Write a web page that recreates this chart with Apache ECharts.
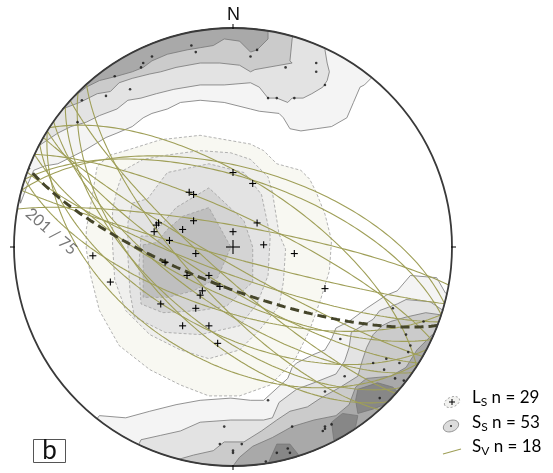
<!DOCTYPE html>
<html><head><meta charset="utf-8">
<script src="https://cdn.jsdelivr.net/npm/echarts@6/dist/echarts.min.js"></script>
<style>html,body{margin:0;padding:0;background:#fff}#c{width:553px;height:473px}</style>
</head><body><div id="c"></div><script>
// ---- DATA (equal-area net coordinates, primitive radius = 1) ----
const ssNorth1 = [[-0.97,0.20],[-0.94,0.28],[-0.91,0.35],[-0.86,0.37],[-0.80,0.38],[-0.74,0.41],[-0.68,0.44],[-0.63,0.47],[-0.58,0.50],[-0.53,0.52],[-0.46,0.55],[-0.41,0.59],[-0.37,0.61],[-0.30,0.63],[-0.24,0.66],[-0.15,0.67],[-0.04,0.66],[0.08,0.63],[0.12,0.62],[0.21,0.61],[0.23,0.59],[0.26,0.54],[0.31,0.53],[0.38,0.54],[0.45,0.55],[0.52,0.59],[0.55,0.66],[0.58,0.73],[0.60,0.74],[0.63,0.77]];
const ssNorth2 = [[-0.89,0.46],[-0.80,0.52],[-0.74,0.55],[-0.67,0.57],[-0.61,0.60],[-0.53,0.63],[-0.48,0.67],[-0.42,0.68],[-0.35,0.70],[-0.27,0.72],[-0.21,0.73],[-0.15,0.74],[-0.04,0.74],[0.08,0.75],[0.12,0.73],[0.16,0.68],[0.20,0.68],[0.25,0.66],[0.27,0.68],[0.32,0.68],[0.36,0.70],[0.41,0.73],[0.43,0.76],[0.44,0.80],[0.43,0.84],[0.42,0.90]];
const ssNorth3 = [[-0.78,0.63],[-0.70,0.66],[-0.62,0.70],[-0.56,0.71],[-0.52,0.75],[-0.46,0.77],[-0.38,0.79],[-0.33,0.80],[-0.26,0.82],[-0.15,0.84],[-0.06,0.84],[0.03,0.83],[0.08,0.80],[0.10,0.81],[0.27,0.84],[0.26,0.85],[0.27,0.95]];
const ssNorth4 = [[-0.72,0.69],[-0.67,0.73],[-0.61,0.76],[-0.53,0.78],[-0.46,0.80],[-0.41,0.82],[-0.37,0.85],[-0.30,0.88],[-0.21,0.90],[-0.15,0.91],[-0.09,0.92],[-0.04,0.95],[0.03,0.94],[0.08,0.89],[0.11,0.90],[0.16,0.95],[0.16,0.98]];
const ssSouth1 = [[0.97,-0.21],[0.93,-0.14],[0.81,-0.13],[0.75,-0.20],[0.70,-0.22],[0.61,-0.28],[0.53,-0.34],[0.47,-0.37],[0.45,-0.42],[0.42,-0.47],[0.37,-0.49],[0.29,-0.53],[0.27,-0.55],[0.25,-0.60],[0.14,-0.70],[0.08,-0.70],[-0.01,-0.69],[-0.15,-0.70],[-0.26,-0.72],[-0.38,-0.75],[-0.49,-0.78],[-0.61,-0.77]];
const ssSouth2 = [[0.96,-0.29],[0.90,-0.25],[0.79,-0.24],[0.75,-0.26],[0.67,-0.29],[0.64,-0.33],[0.59,-0.36],[0.54,-0.39],[0.53,-0.46],[0.51,-0.52],[0.47,-0.58],[0.37,-0.62],[0.29,-0.65],[0.21,-0.71],[0.18,-0.78],[0.14,-0.79],[-0.01,-0.79],[-0.15,-0.80],[-0.24,-0.84],[-0.33,-0.86],[-0.42,-0.88]];
const ssSouth3 = [[0.95,-0.31],[0.88,-0.30],[0.79,-0.32],[0.72,-0.34],[0.68,-0.36],[0.64,-0.40],[0.61,-0.46],[0.59,-0.52],[0.57,-0.59],[0.49,-0.64],[0.40,-0.69],[0.34,-0.73],[0.26,-0.75],[0.20,-0.79],[0.13,-0.84],[0.05,-0.89],[-0.04,-0.89],[-0.09,-0.93],[-0.18,-0.95],[-0.25,-0.97]];
const ssSouth4 = [[0.91,-0.40],[0.84,-0.47],[0.79,-0.55],[0.72,-0.59],[0.61,-0.60],[0.56,-0.64],[0.53,-0.72],[0.47,-0.77],[0.37,-0.79],[0.27,-0.82],[0.18,-0.87],[0.09,-0.91],[0.03,-0.96],[0.00,-1.00]];
const ssPeak1 = [[0.57,-0.65],[0.66,-0.62],[0.73,-0.64],[0.75,-0.66],[0.72,-0.70],[0.69,-0.72],[0.64,-0.74],[0.57,-0.76],[0.56,-0.70]];
const ssPeak2 = [[0.45,-0.80],[0.50,-0.76],[0.57,-0.77],[0.56,-0.82],[0.51,-0.86],[0.46,-0.88]];
const ssPeak3 = [[0.16,-0.99],[0.20,-0.90],[0.26,-0.90],[0.30,-0.95],[0.29,-0.96]];
const ssFills = ['#f4f4f4','#e3e3e3','#cbcbcb','#a9a9a9','#878787'];

const lsContour1 = [[-0.49,0.44],[-0.33,0.49],[-0.15,0.51],[0.08,0.47],[0.14,0.44],[0.20,0.38],[0.31,0.35],[0.35,0.31],[0.38,0.25],[0.42,0.15],[0.45,0.03],[0.44,-0.11],[0.40,-0.24],[0.35,-0.38],[0.28,-0.52],[0.17,-0.63],[0.03,-0.68],[-0.11,-0.68],[-0.24,-0.63],[-0.38,-0.56],[-0.52,-0.45],[-0.61,-0.29],[-0.65,-0.13],[-0.67,-0.01],[-0.67,0.08],[-0.64,0.25],[-0.62,0.37],[-0.56,0.42]];
const lsContour2 = [[-0.50,0.35],[-0.41,0.40],[-0.30,0.42],[-0.15,0.44],[-0.01,0.43],[0.08,0.40],[0.16,0.32],[0.18,0.25],[0.21,0.06],[0.24,-0.01],[0.23,-0.16],[0.21,-0.27],[0.12,-0.38],[0.03,-0.47],[-0.11,-0.51],[-0.24,-0.47],[-0.38,-0.40],[-0.49,-0.29],[-0.54,-0.15],[-0.55,0.01],[-0.55,0.17],[-0.53,0.26]];
const lsContour3 = [[-0.46,0.20],[-0.39,0.22],[-0.30,0.34],[-0.11,0.38],[0.05,0.34],[0.13,0.24],[0.17,0.05],[0.16,-0.13],[0.11,-0.26],[0.03,-0.36],[-0.15,-0.40],[-0.31,-0.39],[-0.45,-0.32],[-0.47,-0.21],[-0.48,-0.04],[-0.48,0.11]];
const lsContour4 = [[-0.43,-0.09],[-0.42,0.05],[-0.37,0.05],[-0.26,0.18],[-0.11,0.27],[0.05,0.12],[0.09,0.00],[0.09,-0.16],[-0.03,-0.27],[-0.15,-0.29],[-0.32,-0.30],[-0.42,-0.26]];
const lsContour5 = [[-0.41,0.01],[-0.35,0.02],[-0.30,0.08],[-0.23,0.14],[-0.11,0.18],[-0.01,0.00],[-0.07,-0.14],[-0.18,-0.20],[-0.30,-0.23],[-0.41,-0.23],[-0.41,-0.09]];
const lsFills = ['#f8f8f2','#efefed','#e3e3e3','#d4d4d4','#bfbfbf'];

// Ls lineations (crosses), n = 29
const lsPoints = [[0.00,0.34],[0.09,0.29],[-0.20,0.25],[-0.18,0.24],[-0.34,0.11],[-0.35,0.10],[-0.36,0.07],[-0.18,0.12],[-0.23,0.08],[-0.29,0.03],[0.00,0.07],[0.11,0.11],[0.14,0.01],[0.28,-0.03],[-0.17,-0.03],[-0.31,-0.07],[-0.21,-0.13],[-0.11,-0.13],[-0.06,-0.18],[-0.14,-0.20],[-0.15,-0.22],[-0.56,-0.16],[-0.33,-0.26],[-0.17,-0.28],[-0.23,-0.36],[-0.11,-0.36],[-0.07,-0.44],[-0.64,-0.04],[0.42,-0.19]];
// Ss poles (dots)
const ssPoints = [[-0.19,0.92],[-0.17,0.89],[-0.37,0.87],[-0.41,0.84],[-0.42,0.82],[-0.54,0.78],[-0.47,0.72],[-0.58,0.69],[-0.69,0.67],[-0.71,0.57],[0.11,0.90],[0.08,0.87],[0.24,0.82],[0.38,0.84],[0.38,0.80],[0.42,0.74],[0.16,0.68],[0.20,0.68],[0.28,0.68],
 [0.73,-0.28],[0.87,-0.34],[0.79,-0.40],[0.49,-0.42],[0.81,-0.45],[0.80,-0.48],[0.64,-0.53],[0.70,-0.51],[0.76,-0.53],[0.69,-0.56],[0.74,-0.60],[0.78,-0.61],[0.51,-0.59],[0.42,-0.66],[0.16,-0.70],[0.67,-0.69],[0.27,-0.82],[0.42,-0.82],[0.42,-0.83],[0.41,-0.84],[0.45,-0.81],[-0.04,-0.82],[-0.06,-0.90],[0.04,-0.90],[0.00,-0.93],[0.00,-0.94],[0.20,-0.94],[0.25,-0.92],[0.26,-0.94],[0.15,-0.98]];
// Sv planes [dip direction, dip], n = 18
const svPlanes = [[15,60],[18,64],[33,65],[25,78],[10,82],[195,86],[200,80],[205,72],[198,66],[210,84],[212,76],[215,68],[220,60],[225,58],[228,72],[212,47],[222,80],[208,58]];
const meanPlane = [201,75];
const meanLabel = '201 / 75';

// ---- projection helpers ----
const D = Math.PI/180;
function greatCircle(dd, dip){
  const st = (dd-90)*D, ddr = dd*D, dr = dip*D, out = [];
  const s = [Math.cos(st), Math.sin(st), 0];
  const d = [Math.cos(ddr)*Math.cos(dr), Math.sin(ddr)*Math.cos(dr), Math.sin(dr)];
  for (let r = 0; r <= 180; r += 1.5){
    const c = Math.cos(r*D), sn = Math.sin(r*D);
    const v = [c*s[0]+sn*d[0], c*s[1]+sn*d[1], c*s[2]+sn*d[2]];
    const p = Math.asin(Math.max(-1, Math.min(1, v[2])));
    const tr = Math.atan2(v[1], v[0]);
    const R = Math.SQRT2*Math.sin((Math.PI/2 - p)/2);
    out.push([R*Math.sin(tr), R*Math.cos(tr)]);
  }
  return out;
}
function az(p){ return Math.atan2(p[0], p[1])/D; }
function withRim(b){
  const a1 = az(b[b.length-1]); let a0 = az(b[0]);
  while (a0 > a1) a0 -= 360;
  const pts = b.slice();
  for (let a = a1; a > a0; a -= 2) pts.push([Math.sin(a*D), Math.cos(a*D)]);
  return pts;
}

const ssPolys = [withRim(ssNorth1), withRim(ssSouth1), withRim(ssNorth2), withRim(ssSouth2), withRim(ssNorth3), withRim(ssSouth3), withRim(ssNorth4), withRim(ssSouth4), ssPeak1, ssPeak2, ssPeak3];
const ssPolyFills = [ssFills[0], ssFills[0], ssFills[1], ssFills[1], ssFills[2], ssFills[2], ssFills[3], ssFills[3], ssFills[4], ssFills[4], ssFills[4]];
const lsPolys = [lsContour1, lsContour2, lsContour3, lsContour4, lsContour5];

function polySeries(polys, fills, stroke, dash, z){
  return {
    type: 'custom', coordinateSystem: 'cartesian2d', z: z, silent: true, clip: false,
    data: polys.map((p, i) => [p[0][0], p[0][1], i]),
    encode: {x: 0, y: 1},
    renderItem: function(params, api){
      const i = api.value(2);
      return {type: 'polygon', shape: {points: polys[i].map(p => api.coord(p))},
        style: {fill: fills[i], stroke: stroke, lineWidth: 0.8, lineDash: dash}};
    }
  };
}

const series = [];
series.push(polySeries(ssPolys, ssPolyFills, '#777', null, 1));
series.push(polySeries(lsPolys, lsFills, '#a0a0a0', [3,2], 2));
svPlanes.forEach(pl => series.push({
  type: 'line', data: greatCircle(pl[0], pl[1]), showSymbol: false, silent: true, z: 3,
  lineStyle: {color: '#9f9f58', width: 1.1}
}));
series.push({type: 'line', data: greatCircle(meanPlane[0], meanPlane[1]), showSymbol: false, silent: true, z: 5,
  lineStyle: {color: '#45452a', width: 3, type: [9,5]}});
series.push({type: 'scatter', data: ssPoints, symbol: 'circle', symbolSize: 2.6, silent: true, z: 6,
  itemStyle: {color: '#111'}});
series.push({
  type: 'custom', coordinateSystem: 'cartesian2d', z: 6, silent: true, clip: false,
  data: lsPoints, encode: {x: 0, y: 1},
  renderItem: function(params, api){
    const c = api.coord([api.value(0), api.value(1)]), h = 3.5;
    return {type: 'group', children: [
      {type: 'line', shape: {x1: c[0]-h, y1: c[1], x2: c[0]+h, y2: c[1]}, style: {stroke: '#000', lineWidth: 1.1}},
      {type: 'line', shape: {x1: c[0], y1: c[1]-h, x2: c[0], y2: c[1]+h}, style: {stroke: '#000', lineWidth: 1.1}}
    ]};
  }
});
// primitive circle, N/E/S/W ticks, centre cross
series.push({
  type: 'custom', coordinateSystem: 'cartesian2d', z: 7, silent: true, clip: false,
  data: [[0,0]], encode: {x: 0, y: 1},
  renderItem: function(params, api){
    const c = api.coord([0,0]), r = api.coord([1,0])[0] - c[0];
    const ch = [
      {type: 'circle', shape: {cx: c[0], cy: c[1], r: r}, style: {fill: 'none', stroke: '#3a3a3a', lineWidth: 1.8}},
      {type: 'line', shape: {x1: c[0]-7, y1: c[1], x2: c[0]+7, y2: c[1]}, style: {stroke: '#000', lineWidth: 1.1}},
      {type: 'line', shape: {x1: c[0], y1: c[1]-7, x2: c[0], y2: c[1]+7}, style: {stroke: '#000', lineWidth: 1.1}}
    ];
    [0,90,180,270].forEach(a => {
      const sx = Math.sin(a*D), sy = -Math.cos(a*D);
      ch.push({type: 'line', shape: {x1: c[0]+sx*(r-1), y1: c[1]+sy*(r-1), x2: c[0]+sx*(r+4), y2: c[1]+sy*(r+4)},
        style: {stroke: '#000', lineWidth: 1}});
    });
    return {type: 'group', children: ch};
  }
});
series.push({type: 'scatter', data: [[-0.83, 0.07]], symbolSize: 0, silent: true, z: 8,
  label: {show: true, position: 'inside', formatter: meanLabel, rotate: -41, color: '#555',
    fontSize: 16, fontFamily: 'Lato'}});

const chart = echarts.init(document.getElementById('c'), null, {renderer: 'canvas'});
const rich = {
  m: {fontSize: 17, fontFamily: 'Lato', color: '#222', lineHeight: 22, verticalAlign: 'middle'},
  s: {fontSize: 12, fontFamily: 'Lato', color: '#222', lineHeight: 22, verticalAlign: 'bottom'}
};
chart.setOption({
  animation: false,
  grid: {left: 14, top: 28, width: 438, height: 438},
  xAxis: {type: 'value', min: -1, max: 1, show: false},
  yAxis: {type: 'value', min: -1, max: 1, show: false},
  series: series,
  graphic: [
    {type: 'text', left: 227, top: 6, style: {text: 'N', fontSize: 18, fontFamily: 'Liberation Sans', fill: '#111'}},
    {type: 'group', left: 33, top: 438, children: [
      {type: 'rect', shape: {x: 0, y: 0, width: 32, height: 23}, style: {fill: '#fff', stroke: '#555', lineWidth: 1}},
      {type: 'text', x: 16, y: 11.5, style: {text: 'b', fontSize: 26, fontFamily: 'Lato', fill: '#111', align: 'center', verticalAlign: 'middle'}}
    ]},
    {type: 'ellipse', shape: {cx: 452, cy: 402, rx: 8, ry: 5}, rotation: 0.4, originX: 452, originY: 402,
      style: {fill: '#f2f2f0', stroke: '#999', lineWidth: 0.8, lineDash: [2,2]}},
    {type: 'line', shape: {x1: 449, y1: 402, x2: 455, y2: 402}, style: {stroke: '#000', lineWidth: 1}},
    {type: 'line', shape: {x1: 452, y1: 399, x2: 452, y2: 405}, style: {stroke: '#000', lineWidth: 1}},
    {type: 'ellipse', shape: {cx: 451, cy: 426, rx: 8, ry: 5.5}, rotation: 0.4, originX: 451, originY: 426,
      style: {fill: '#dcdcdc', stroke: '#888', lineWidth: 0.8}},
    {type: 'circle', shape: {cx: 451, cy: 426, r: 1}, style: {fill: '#222'}},
    {type: 'line', shape: {x1: 443, y1: 454, x2: 461, y2: 449}, style: {stroke: '#9f9f58', lineWidth: 1.2}},
    {type: 'text', left: 472, top: 389, style: {text: '{m|L}{s|S}{m| n = 29}', rich: rich}},
    {type: 'text', left: 472, top: 414, style: {text: '{m|S}{s|S}{m| n = 53}', rich: rich}},
    {type: 'text', left: 472, top: 438, style: {text: '{m|S}{s|V}{m| n = 18}', rich: rich}}
  ]
});
</script></body></html>
